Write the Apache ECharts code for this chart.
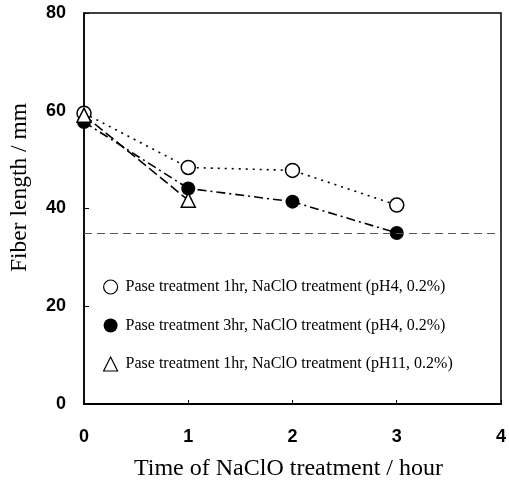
<!DOCTYPE html>
<html>
<head>
<meta charset="utf-8">
<script src="https://cdn.jsdelivr.net/npm/echarts@6/dist/echarts.min.js"></script>
<style>
  html, body { margin: 0; padding: 0; background: #fff; }
  #chart { width: 509px; height: 487px; }
</style>
</head>
<body>
<div id="chart"></div>
<script>
// data
var hours = [0, 1, 2, 3];
var base1hrPH4 = [59.5, 48.4, 47.8, 40.7];
var base3hrPH4 = [57.7, 44.1, 41.4, 35.0];
var hoursPH11 = [0, 1];
var base1hrPH11 = [59.1, 41.7];
var refLevel = 35;

var names = [
  "Pase treatment 1hr, NaClO treatment (pH4, 0.2%)",
  "Pase treatment 3hr, NaClO treatment (pH4, 0.2%)",
  "Pase treatment 1hr, NaClO treatment (pH11, 0.2%)"
];

function pairs(xs, ys) {
  return xs.map(function (x, i) { return [x, ys[i]]; });
}

var serif = "Liberation Serif";
var sans = "Liberation Sans";

var chart = echarts.init(document.getElementById("chart"));
chart.setOption({
  animation: false,
  backgroundColor: "#fff",
  grid: {
    left: 83,
    right: 8,
    top: 13,
    bottom: 83,
    show: true,
    borderColor: "#000",
    borderWidth: 1.5
  },
  legend: {
    orient: "vertical",
    left: 98,
    top: 274,
    itemWidth: 14,
    itemHeight: 14,
    itemGap: 22.5,
    textStyle: { fontFamily: serif, fontSize: 16, color: "#000", padding: [0, 0, 0, 3] },
    data: [
      { name: names[0], icon: "circle", itemStyle: { color: "#fff", borderColor: "#000", borderWidth: 1.2 } },
      { name: names[1], icon: "circle", itemStyle: { color: "#000", borderColor: "#000", borderWidth: 0 } },
      { name: names[2], icon: "triangle", itemStyle: { color: "#fff", borderColor: "#000", borderWidth: 1.2 } }
    ]
  },
  xAxis: {
    type: "value",
    min: 0,
    max: 4,
    interval: 1,
    name: "Time of NaClO treatment / hour",
    nameLocation: "middle",
    nameGap: 53,
    nameTextStyle: { fontFamily: serif, fontSize: 24, color: "#000", padding: [0, 8, 0, 0] },
    axisLine: { lineStyle: { color: "#000", width: 2 } },
    axisTick: { inside: true, length: 4, lineStyle: { color: "#000" } },
    axisLabel: { margin: 24, fontFamily: sans, fontWeight: "bold", fontSize: 18, color: "#000" },
    splitLine: { show: false }
  },
  yAxis: {
    type: "value",
    min: 0,
    max: 80,
    interval: 20,
    name: "Fiber length / mm",
    nameLocation: "middle",
    nameGap: 52,
    nameTextStyle: { fontFamily: serif, fontSize: 23.5, color: "#000", padding: [0, 0, 0, 42] },
    axisLine: { lineStyle: { color: "#000", width: 1.5 } },
    axisTick: { inside: true, length: 5, lineStyle: { color: "#000" } },
    axisLabel: { margin: 18, fontFamily: sans, fontWeight: "bold", fontSize: 18, color: "#000" },
    splitLine: { show: false }
  },
  series: [
    {
      name: names[0],
      type: "line",
      data: pairs(hours, base1hrPH4),
      symbol: "circle",
      symbolSize: 14,
      z: 3,
      itemStyle: { color: "#fff", borderColor: "#000", borderWidth: 1.5 },
      lineStyle: { color: "#000", width: 1.6, type: [2, 5] },
      markLine: {
        silent: true,
        symbol: "none",
        label: { show: false },
        lineStyle: { color: "#555", width: 1, type: [8, 5] },
        data: [{ yAxis: refLevel }]
      }
    },
    {
      name: names[1],
      type: "line",
      data: pairs(hours, base3hrPH4),
      symbol: "circle",
      symbolSize: 14,
      z: 4,
      itemStyle: { color: "#000", borderColor: "#000", borderWidth: 0 },
      lineStyle: { color: "#000", width: 1.6, type: [9, 4, 2, 4] }
    },
    {
      name: names[2],
      type: "line",
      data: pairs(hoursPH11, base1hrPH11),
      symbol: "triangle",
      symbolSize: 14,
      z: 5,
      itemStyle: { color: "#fff", borderColor: "#000", borderWidth: 1.5 },
      lineStyle: { color: "#000", width: 1.6, type: [10, 4] }
    }
  ]
});
</script>
</body>
</html>
